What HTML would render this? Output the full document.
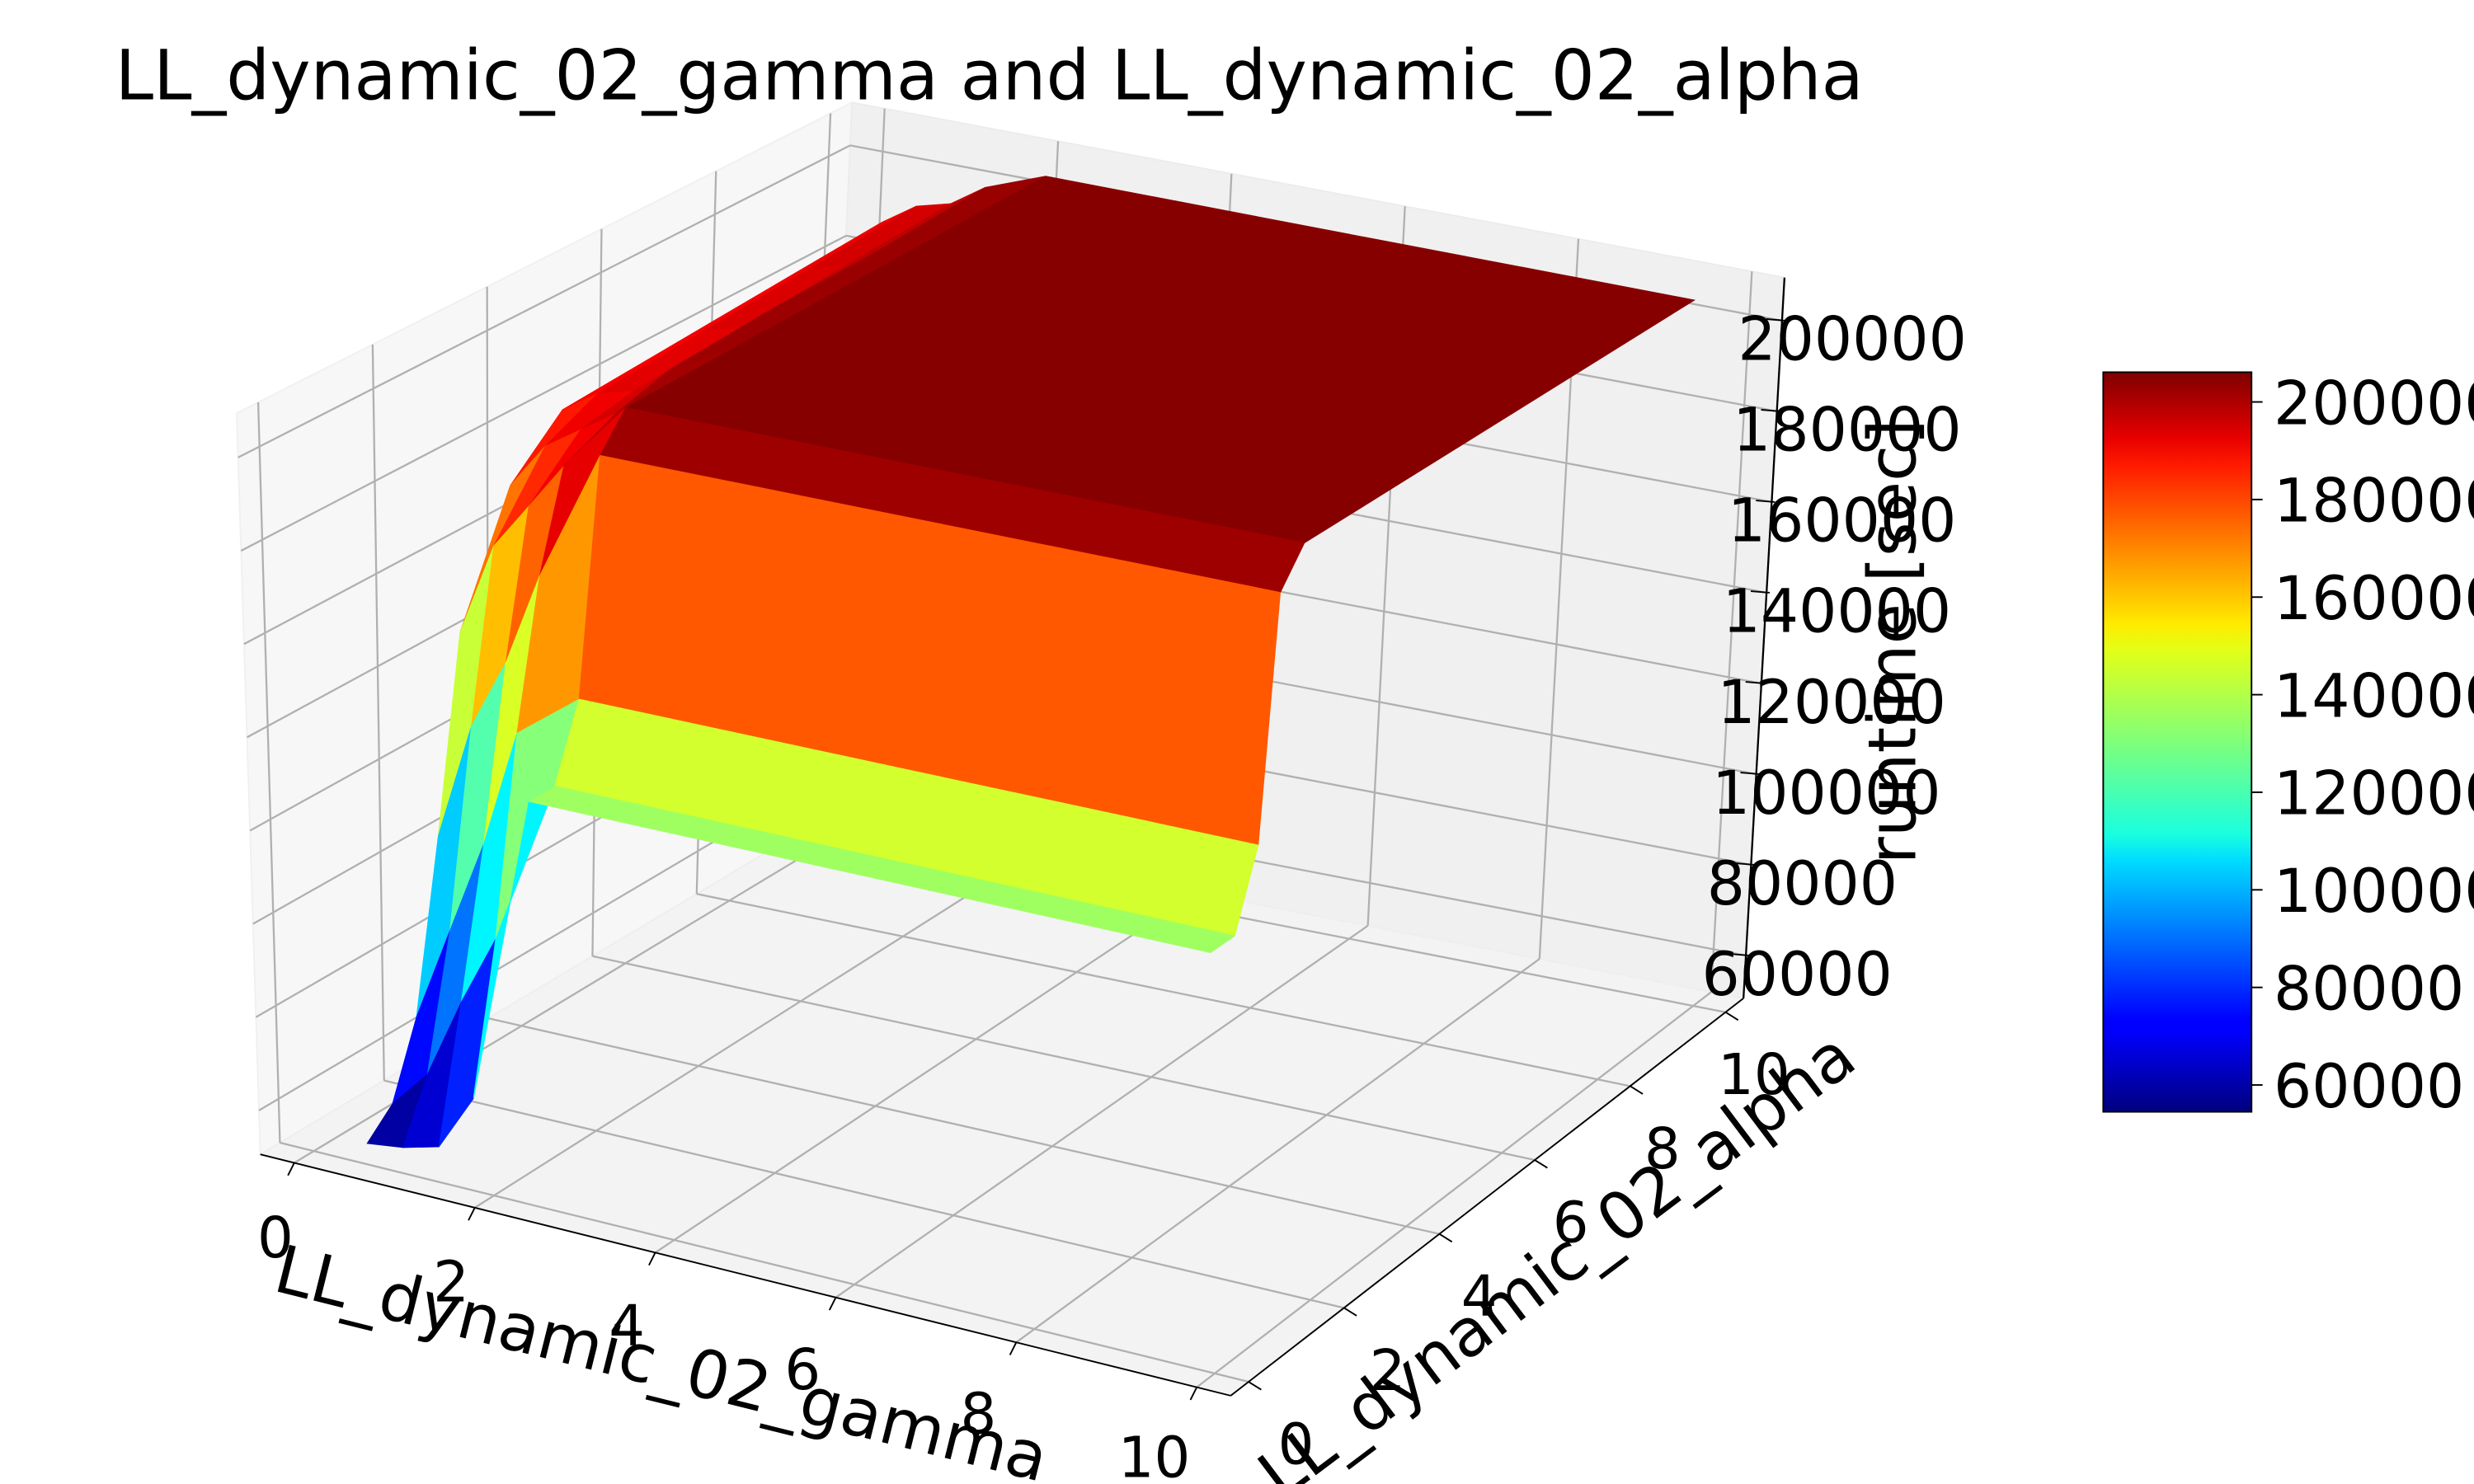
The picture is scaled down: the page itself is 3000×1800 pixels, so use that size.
<!DOCTYPE html>
<html><head><meta charset="utf-8"><style>
html,body{margin:0;padding:0;background:#fff;}
svg{display:block;font-family:"DejaVu Sans","Liberation Sans",sans-serif;}
</style></head><body>
<svg id="chart" xmlns="http://www.w3.org/2000/svg" width="3000" height="1800" viewBox="0 0 1568 941" preserveAspectRatio="none">
<defs>
<linearGradient id="jetgrad" x1="0" y1="1" x2="0" y2="0">
<stop offset="0" stop-color="#00007f"/><stop offset="0.11" stop-color="#0000ff"/><stop offset="0.125" stop-color="#0000ff"/><stop offset="0.34" stop-color="#00dcff"/><stop offset="0.375" stop-color="#19ffdf"/><stop offset="0.5" stop-color="#7fff7a"/><stop offset="0.625" stop-color="#e3ff17"/><stop offset="0.66" stop-color="#ffea00"/><stop offset="0.875" stop-color="#ff1900"/><stop offset="0.91" stop-color="#e80000"/><stop offset="1" stop-color="#7f0000"/>
</linearGradient>
</defs>
<text x="73" y="63" font-size="43.6" fill="#000">LL_dynamic_02_gamma and LL_dynamic_02_alpha</text>
<g id="panes"></g>
<g id="surface"></g>
<g id="axes"></g>
<g id="colorbar">
<rect x="1333" y="236" width="94" height="469" fill="url(#jetgrad)" stroke="#000" stroke-width="1"/>
</g>
</svg>
<script>
const gammas = [0.6, 1.0, 1.4, 1.8, 2.5, 4, 6, 8, 10];
const alphas = [0, 0.5, 1, 1.5, 2, 3, 4, 6, 8, 10];
const row_a0  = [55000, 56000, 58000, 70000, 135000, 135000, 135000, 135000, 135000];
const row_a05 = [60000, 68000, 85000, 100000, 135000, 135000, 135000, 135000, 135000];
const row_a1  = [75000, 95000, 115000, 140000, 150000, 150000, 150000, 150000, 150000];
const row_a15 = [110000, 135000, 150000, 170000, 198000, 198000, 198000, 198000, 198000];
const row_a2  = [150000, 170000, 180000, 190000, 205000, 205000, 205000, 205000, 205000];
const row_a3  = [175000, 185000, 190000, 195000, 205000, 205000, 205000, 205000, 205000];
const row_a4  = [185000, 190000, 192000, 198000, 205000, 205000, 205000, 205000, 205000];
const row_a6  = [186000, 191000, 193000, 199000, 205000, 205000, 205000, 205000, 205000];
const row_a8  = [187000, 192000, 194000, 199000, 205000, 205000, 205000, 205000, 205000];
const row_a10 = [188000, 193000, 195000, 200000, 205000, 205000, 205000, 205000, 205000];
const zRows = [row_a0,row_a05,row_a1,row_a15,row_a2,row_a3,row_a4,row_a6,row_a8,row_a10];
const gammaTicks = [0,2,4,6,8,10];
const alphaTicks = [0,2,4,6,8,10];
const zTicks = [60000,80000,100000,120000,140000,160000,180000,200000];
const cbTicks = [60000,80000,100000,120000,140000,160000,180000,200000];
const vmin = 54500, vmax = 206100;

const NS = "http://www.w3.org/2000/svg";
function mk(tag, attrs, parent){const e=document.createElementNS(NS,tag);for(const k in attrs)e.setAttribute(k,attrs[k]);parent.appendChild(e);return e;}
// box corners (screen)
const FL=[165,732],BL=[520,520],BR=[1105,633],FR=[780,885];
const TFL=[150,262],TBL=[540,65],TBR=[1131,176],TFR=[770,400];
// top-plane corners used for the surface (perspective correction)
const sTFL=[150,255],sTBL=[518,62],sTBR=[1106,174],sTFR=[775,380];
const gLo=-0.376, gHi=10.376, aLo=-0.376, aHi=10.376, zLo=50570, zHi=209500;
function lerp(p,q,t){return [p[0]+(q[0]-p[0])*t,p[1]+(q[1]-p[1])*t];}
function bil(c00,c10,c11,c01,u,v){return lerp(lerp(c00,c10,u),lerp(c01,c11,u),v);}
function P(g,a,z){const u=(g-gLo)/(gHi-gLo),v=(a-aLo)/(aHi-aLo),f=(z-zLo)/(zHi-zLo);
 const fl=bil(FL,FR,BR,BL,u,v),tp=bil(sTFL,sTFR,sTBR,sTBL,u,v);return lerp(fl,tp,f);}
function jet(v){let t=(v-vmin)/(vmax-vmin);t=Math.max(0,Math.min(1,t));
 const cl=x=>Math.max(0,Math.min(1,x));
 const r=cl(1.5-Math.abs(4*t-3)),g=cl(1.5-Math.abs(4*t-2)),b=cl(1.5-Math.abs(4*t-1));
 return `rgb(${Math.round(r*255)},${Math.round(g*255)},${Math.round(b*255)})`;}

// panes
const panes=document.getElementById('panes');
const lp=mk('polygon',{points:[FL,BL,TBL,TFL].map(p=>p.join(',')).join(' '),fill:'#f7f7f7',stroke:'#f0f0f0'},panes);

const bp=mk('polygon',{points:[BL,BR,TBR,TBL].map(p=>p.join(',')).join(' '),fill:'#f0f0f0',stroke:'#ececec'},panes);

const fp=mk('polygon',{points:[FL,BL,BR,FR].map(p=>p.join(',')).join(' '),fill:'#f3f3f3',stroke:'#eeeeee'},panes);

function line(p,q,name){const l=mk('line',{x1:p[0],y1:p[1],x2:q[0],y2:q[1],stroke:'#b0b0b0','stroke-width':1.2},panes);}
gammaTicks.forEach(v=>{const t=(v-gLo)/(gHi-gLo);
 const a=lerp(FL,FR,t),b=lerp(BL,BR,t),c=lerp(TBL,TBR,t);line(a,b,'floor-gridline-gamma');line(b,c,'back-gridline-gamma');});
alphaTicks.forEach(v=>{const t=(v-aLo)/(aHi-aLo);
 const a=lerp(FR,BR,t),b=lerp(FL,BL,t),c=lerp(TFL,TBL,t);line(a,b,'floor-gridline-alpha');line(b,c,'left-gridline-alpha');});
const zfrac=z=>(z-zLo)/(zHi-zLo);
zTicks.forEach(z=>{const t=zfrac(z);const a=lerp(FL,TFL,t),b=lerp(BL,TBL,t),c=lerp(BR,TBR,t);line(a,b,'left-gridline-z');line(b,c,'back-gridline-z');});

// surface
const surf=document.getElementById('surface');
const quads=[];
for(let i=0;i<alphas.length-1;i++)for(let j=0;j<gammas.length-1;j++){
 const c=[[j,i],[j+1,i],[j+1,i+1],[j,i+1]];
 const zs=c.map(([jj,ii])=>zRows[ii][jj]);
 const pts=c.map(([jj,ii],k)=>P(gammas[jj],alphas[ii],zs[k]));
 const avg=zs.reduce((s,v)=>s+v,0)/4;
 const depth=(gammas[j]+gammas[j+1])/2/10-(alphas[i]+alphas[i+1])/2/10;
 quads.push({pts,avg,depth});}
quads.sort((a,b)=>a.depth-b.depth);
quads.forEach(q=>{const col=jet(q.avg);
 const p=mk('polygon',{points:q.pts.map(p=>p[0].toFixed(1)+','+p[1].toFixed(1)).join(' '),fill:col,stroke:col,'stroke-width':0.6},surf);
 });

// axes
const ax=document.getElementById('axes');
function txt(x,y,s,size,name,extra){const t=mk('text',Object.assign({x:x,y:y,'font-size':size,fill:'#000'},extra||{}),ax);t.textContent=s;return t;}
const al=mk('line',{x1:FL[0],y1:FL[1],x2:FR[0],y2:FR[1],stroke:'#000','stroke-width':1},ax);

const bl=mk('line',{x1:FR[0],y1:FR[1],x2:BR[0],y2:BR[1],stroke:'#000','stroke-width':1},ax);

const zl=mk('line',{x1:BR[0],y1:BR[1],x2:TBR[0],y2:TBR[1],stroke:'#000','stroke-width':1.2},ax);

gammaTicks.forEach(v=>{const t=(v-gLo)/(gHi-gLo);const p=lerp(FL,FR,t);
 const tk=mk('line',{x1:p[0],y1:p[1],x2:p[0]-4,y2:p[1]+8,stroke:'#000','stroke-width':1},ax);
 
 txt(p[0]-12-v*1.5,p[1]+60-v*0.3,String(v),36,'gamma-tick-label',{'text-anchor':'middle'});});
alphaTicks.forEach(v=>{const t=(v-aLo)/(aHi-aLo);const p=lerp(FR,BR,t);
 const tk=mk('line',{x1:p[0],y1:p[1],x2:p[0]+8,y2:p[1]+5,stroke:'#000','stroke-width':1},ax);
 
 txt(p[0]+30-v*1.2,p[1]+52,String(v),36,'alpha-tick-label',{'text-anchor':'middle'});});
zTicks.forEach(z=>{const t=zfrac(z);const p=lerp(BR,TBR,t);
 const tk=mk('line',{x1:p[0]-10,y1:p[1]-1,x2:p[0]+2,y2:p[1],stroke:'#000','stroke-width':1},ax);
 
 txt(p[0]-28,p[1]+25,String(z),38,'z-tick-label');});
txt(172,818,'LL_dynamic_02_gamma',42,'gamma-axis-title',{transform:'rotate(14 172 818)'});
txt(812,952,'LL_dynamic_02_alpha',42,'alpha-axis-title',{transform:'rotate(-37 812 952)'});
txt(1214,548,'runtime [sec]',42,'z-axis-title',{transform:'rotate(-90 1214 548)'});

// colorbar ticks
const cb=document.getElementById('colorbar');
cbTicks.forEach(v=>{const y=705-(v-vmin)/(vmax-vmin)*469;
 const tk=mk('line',{x1:1427,y1:y,x2:1434,y2:y,stroke:'#000','stroke-width':1},cb);
 
 const t=mk('text',{x:1441,y:y+14,'font-size':38,fill:'#000'},cb);t.textContent=String(v);
 });
</script>
</body></html>
